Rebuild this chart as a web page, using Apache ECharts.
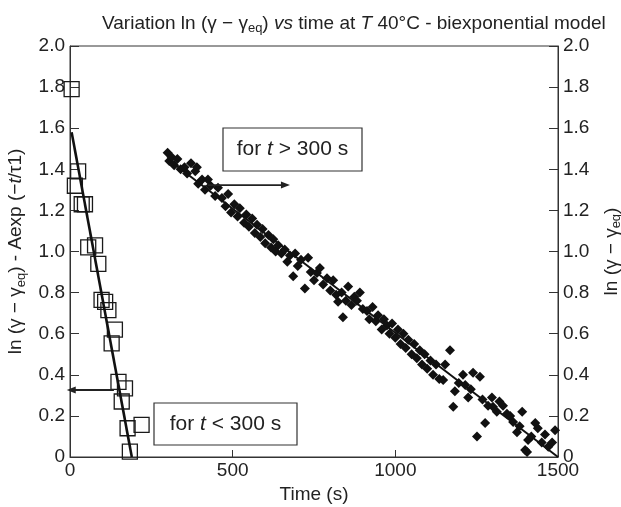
<!DOCTYPE html>
<html><head><meta charset="utf-8">
<script src="https://cdn.jsdelivr.net/npm/echarts@6/dist/echarts.min.js"></script>
<style>html,body{margin:0;padding:0;background:#fff}#c{width:621px;height:507px}</style>
</head><body><div id="c"></div>
<script>
// ---- data ----
const xTickValues = [0, 500, 1000, 1500];
const yTickLabels = ['0','0.2','0.4','0.6','0.8','1.0','1.2','1.4','1.6','1.8','2.0'];

// early regime (t < 300 s), left axis, open squares
const earlyT = [5, 15, 25, 36, 46, 56, 77, 87, 97, 108, 118, 128, 138, 149, 159, 169, 177, 184, 220];
const earlyY = [1.79, 1.32, 1.39, 1.23, 1.23, 1.02, 1.03, 0.94, 0.765, 0.755, 0.715, 0.553, 0.62, 0.366, 0.27, 0.334, 0.14, 0.026, 0.156];
const earlyFitT = [5, 190];
const earlyFitY = [1.58, 0];

// late regime (t > 300 s), right axis, filled diamonds
const lateT = [300,305,312,320,330,340,352,360,372,385,390,394,406,415,424,432,446,455,467,478,486,495,505,515,522,535,542,550,560,568,575,585,592,600,610,618,625,632,640,650,660,668,676,686,692,700,710,722,732,740,750,759,768,778,790,800,809,818,824,835,839,848,855,865,874,882,891,900,913,920,930,940,947,958,965,974,982,990,1000,1008,1016,1025,1032,1040,1050,1058,1066,1075,1082,1090,1098,1108,1116,1125,1135,1147,1153,1168,1178,1183,1195,1208,1215,1224,1232,1239,1251,1260,1268,1276,1285,1297,1300,1312,1320,1331,1343,1353,1362,1374,1382,1390,1399,1405,1408,1418,1430,1438,1450,1460,1470,1482,1491];
const lateY = [1.48,1.44,1.46,1.42,1.45,1.40,1.41,1.38,1.43,1.39,1.41,1.33,1.35,1.30,1.35,1.32,1.27,1.31,1.26,1.22,1.28,1.19,1.23,1.17,1.21,1.14,1.18,1.12,1.16,1.09,1.13,1.07,1.11,1.04,1.08,1.02,1.06,1.00,1.03,0.99,1.01,0.95,0.98,0.88,0.99,0.93,0.96,0.82,0.97,0.90,0.86,0.895,0.92,0.84,0.87,0.81,0.86,0.79,0.755,0.80,0.68,0.76,0.83,0.74,0.78,0.76,0.80,0.72,0.71,0.67,0.73,0.66,0.69,0.62,0.67,0.64,0.60,0.65,0.58,0.62,0.55,0.60,0.53,0.57,0.50,0.55,0.48,0.52,0.45,0.50,0.43,0.47,0.40,0.45,0.38,0.375,0.45,0.52,0.245,0.32,0.36,0.40,0.35,0.29,0.33,0.41,0.10,0.39,0.28,0.165,0.25,0.29,0.245,0.22,0.27,0.25,0.21,0.20,0.17,0.12,0.15,0.22,0.034,0.024,0.083,0.10,0.165,0.14,0.07,0.11,0.05,0.07,0.13];
const lateFitT = [300, 1500];
const lateFitY = [1.45, 0];

// annotation arrows in data coordinates [t, value]
const arrowEarly = [[135, 0.326], [-10, 0.326]];
const arrowLate = [[424, 1.323], [676, 1.323]];

// ---- chart ----
const FONT = 'Liberation Sans, Arial, Helvetica, sans-serif';
const FS = 19;
const zip = (a, b) => a.map((v, i) => [v, b[i]]);
const chart = echarts.init(document.getElementById('c'), null, {renderer: 'canvas'});
const yLabel = v => yTickLabels[Math.round(v / 0.2)];
const richBase = {
  sub: {fontSize: 13, fontFamily: FONT, color: '#222', verticalAlign: 'bottom'},
  it: {fontSize: FS, fontFamily: FONT, color: '#222', fontStyle: 'italic'}
};
const yAxisCommon = {
  type: 'value', min: 0, max: 2, interval: 0.2,
  axisLine: {show: true, lineStyle: {color: '#333', width: 1}},
  axisTick: {show: true, inside: true, length: 9, lineStyle: {color: '#333'}},
  axisLabel: {fontSize: FS, fontFamily: FONT, color: '#222', formatter: yLabel, margin: 5},
  splitLine: {show: false},
  nameLocation: 'middle', nameRotate: 90,
  nameTextStyle: {fontSize: FS, fontFamily: FONT, color: '#222', lineHeight: 23, rich: richBase}
};
chart.setOption({
  animation: false,
  backgroundColor: '#fff',
  title: {
    text: 'Variation ln (γ − γ{sub|eq}) {it|vs} time at {it|T} 40°C - biexponential model',
    left: 97, top: 7,
    textStyle: {fontSize: FS, fontWeight: 'normal', fontFamily: FONT, color: '#222', lineHeight: 23, rich: richBase}
  },
  grid: {left: 70, right: 63, top: 46, bottom: 50, show: true, borderColor: '#333', borderWidth: 1,
    containLabel: false, outerBoundsMode: 'none'},
  xAxis: {
    type: 'value', min: 0, max: 1500, interval: 500,
    axisLine: {show: true, lineStyle: {color: '#333'}},
    axisTick: {show: true, inside: true, length: 7, lineStyle: {color: '#333'}},
    axisLabel: {fontSize: FS, fontFamily: FONT, color: '#222', margin: 4,
      formatter: v => xTickValues.includes(v) ? String(v) : ''},
    splitLine: {show: false},
    name: 'Time (s)', nameLocation: 'middle', nameGap: 27,
    nameTextStyle: {fontSize: FS, fontFamily: FONT, color: '#222'}
  },
  yAxis: [
    Object.assign({}, yAxisCommon, {position: 'left', nameGap: 42,
      name: 'ln (γ − γ{sub|eq}) - Aexp (−{it|t}/τ1)'}),
    Object.assign({}, yAxisCommon, {position: 'right', nameGap: 36,
      name: 'ln (γ − γ{sub|eq})'})
  ],
  series: [
    {type: 'scatter', yAxisIndex: 0, data: zip(earlyT, earlyY), symbol: 'rect', symbolSize: 15,
      itemStyle: {color: 'rgba(255,255,255,0)', borderColor: '#1a1a1a', borderWidth: 1.3, opacity: 1}, z: 3},
    {type: 'line', yAxisIndex: 0, data: zip(earlyFitT, earlyFitY), symbol: 'none',
      lineStyle: {color: '#111', width: 2.6}, z: 4},
    {type: 'scatter', yAxisIndex: 1, data: zip(lateT, lateY), symbol: 'diamond', symbolSize: 10,
      itemStyle: {color: '#111', opacity: 1}, z: 3},
    {type: 'line', yAxisIndex: 1, data: zip(lateFitT, lateFitY), symbol: 'none',
      lineStyle: {color: '#111', width: 2}, z: 4}
  ]
});

function arrowGraphics(pts, yIdx) {
  const a = chart.convertToPixel({xAxisIndex: 0, yAxisIndex: yIdx}, pts[0]);
  const b = chart.convertToPixel({xAxisIndex: 0, yAxisIndex: yIdx}, pts[1]);
  const dir = Math.sign(b[0] - a[0]);
  const L = 9, W = 3.5;
  return [
    {type: 'line', shape: {x1: a[0], y1: a[1], x2: b[0] - dir * L * 0.6, y2: b[1]},
      style: {stroke: '#222', lineWidth: 1.8}, z: 10},
    {type: 'polygon', shape: {points: [[b[0], b[1]], [b[0] - dir * L, b[1] - W], [b[0] - dir * L, b[1] + W]]},
      style: {fill: '#222'}, z: 10}
  ];
}
function box(x, y, w, h, txt) {
  return {type: 'group', x: x, y: y, z: 10, children: [
    {type: 'rect', shape: {x: 0, y: 0, width: w, height: h}, style: {fill: '#fff', stroke: '#333', lineWidth: 1.2}},
    {type: 'text', x: w / 2, y: h / 2, style: {text: txt, align: 'center', verticalAlign: 'middle',
      font: '21px ' + FONT, fill: '#222', rich: {it: {fontStyle: 'italic', fontSize: 21, fontFamily: FONT, fill: '#222'}}}}
  ]};
}
chart.setOption({graphic: [].concat(
  arrowGraphics(arrowEarly, 0),
  arrowGraphics(arrowLate, 1),
  [box(154, 403, 143, 42, 'for {it|t} < 300 s'), box(223, 128, 139, 43, 'for {it|t} > 300 s')]
)});
</script></body></html>
